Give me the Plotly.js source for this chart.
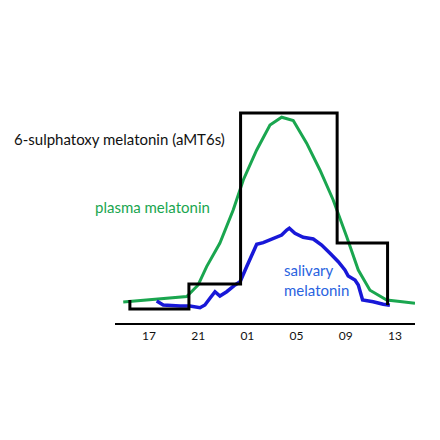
<!DOCTYPE html>
<html>
<head>
<meta charset="utf-8">
<script src="https://cdn.plot.ly/plotly-3.0.1.min.js"></script>
<style>html,body{margin:0;padding:0;background:#fff;}#chart{width:440px;height:440px;}</style>
</head>
<body>
<div id="chart"></div>
<script>
// Hours of day on a continuous clock (25 = 01h next day, etc.)
const tickHours = [17, 21, 25, 29, 33, 37];
const tickLabels = ["17", "21", "01", "05", "09", "13"];

// 6-sulphatoxy melatonin (aMT6s) urinary collection steps
const aMT6sHours = [15.45, 15.45, 20.25, 24.45, 32.3, 36.4];
const aMT6sValues = [11.5, 7, 19.5, 105, 40, 9];

// Plasma melatonin
const plasmaHours = [14.91, 17.5, 20.07, 21.0, 21.69, 22.77, 23.85, 24.67, 25.76, 26.84, 27.79, 28.73, 29.82, 30.90, 31.98, 33.07, 34.02, 34.97, 36.33, 37.41, 38.63];
const plasmaValues = [10.5, 11.8, 13.2, 19, 28.2, 40, 56.5, 71.5, 86.5, 99, 102.9, 101.2, 89.9, 76.5, 61.5, 43.2, 26.5, 16.4, 11.5, 10.7, 9.9];

// Salivary melatonin
const salivaHours = [17.63, 18.16, 19.52, 20.33, 21.15, 21.55, 21.96, 22.37, 22.77, 23.32, 24.0, 24.41, 24.94, 25.35, 25.76, 26.29, 26.84, 27.38, 27.79, 28.20, 28.41, 28.87, 29.54, 30.36, 31.04, 31.72, 32.39, 32.93, 33.20, 33.75, 34.02, 34.37, 35.23, 36.05, 36.59];
const salivaValues = [11, 9, 8.5, 8.5, 7.65, 9, 12.35, 15.65, 13.5, 15.65, 19, 20.65, 28.15, 34, 39.35, 40.15, 41.5, 43.15, 44, 46.5, 47.35, 44.85, 42.85, 42, 39, 34.85, 30.65, 26.5, 23.5, 21.5, 19, 11.5, 10.65, 9.35, 8.85];

const labels = {
  aMT6s: "6-sulphatoxy melatonin (aMT6s)",
  plasma: "plasma melatonin",
  saliva: "salivary<br>melatonin"
};

const traces = [
  {x: plasmaHours, y: plasmaValues, type: 'scatter', mode: 'lines',
   line: {color: '#1aa64f', width: 3}, hoverinfo: 'skip'},
  {x: salivaHours, y: salivaValues, type: 'scatter', mode: 'lines',
   line: {color: '#1818d8', width: 3.5}, hoverinfo: 'skip'},
  {x: aMT6sHours, y: aMT6sValues, type: 'scatter', mode: 'lines',
   line: {color: '#000000', width: 3, shape: 'hv'}, hoverinfo: 'skip'}
];

const layout = {
  width: 440, height: 440,
  margin: {l: 115, r: 25, t: 103, b: 117},
  paper_bgcolor: '#ffffff', plot_bgcolor: '#ffffff',
  showlegend: false,
  font: {family: 'Lato, "Open Sans", sans-serif', color: '#000'},
  xaxis: {
    range: [14.24, 38.63], showgrid: false, zeroline: false,
    showline: true, linecolor: '#000', linewidth: 1.5,
    tickmode: 'array', tickvals: tickHours, ticktext: tickLabels,
    ticks: '', tickfont: {size: 12, color: '#111'}, ticklabelstandoff: 1
  },
  yaxis: {
    range: [0, 110], visible: false, showgrid: false, zeroline: false
  },
  annotations: [
    {xref: 'paper', yref: 'paper', x: -0.344, y: 0.835, xanchor: 'left', yanchor: 'middle',
     text: labels.aMT6s, showarrow: false, font: {size: 15, color: '#111'}},
    {xref: 'paper', yref: 'paper', x: -0.075, y: 0.527, xanchor: 'left', yanchor: 'middle',
     text: labels.plasma, showarrow: false, font: {size: 15, color: '#1aa64f'}},
    {xref: 'paper', yref: 'paper', x: 0.557, y: 0.195, xanchor: 'left', yanchor: 'middle', align: 'left',
     text: labels.saliva, showarrow: false, font: {size: 15, color: '#2a63e0'}}
  ]
};

Plotly.newPlot('chart', traces, layout, {staticPlot: true, displayModeBar: false});
</script>
</body>
</html>
